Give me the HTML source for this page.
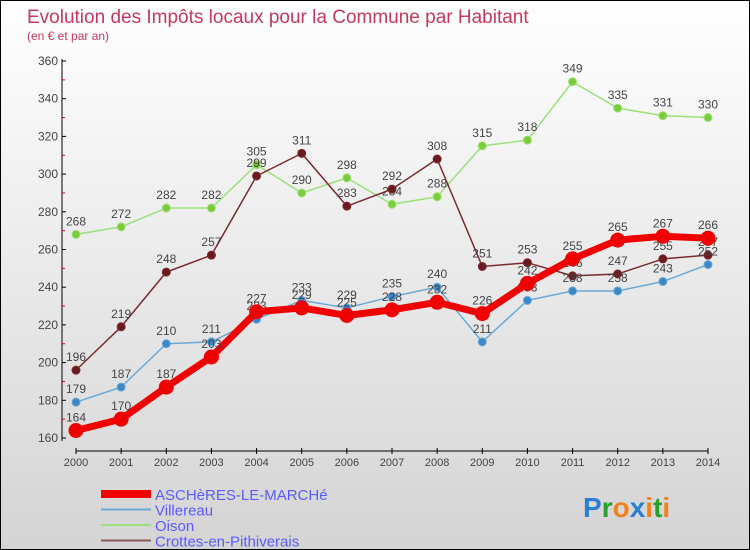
<!DOCTYPE html>
<html><head><meta charset="utf-8"><style>
body{margin:0;}
#wrap{width:748px;height:548px;border:1px solid #000;background:linear-gradient(#fff,#d4d4d4);position:relative;font-family:"Liberation Sans",sans-serif;overflow:hidden}
</style></head><body>
<div id="wrap">
<svg id="svg" width="748" height="548" xmlns="http://www.w3.org/2000/svg">
<text x="26" y="22" font-size="19" fill="#c8365e">Evolution des Impôts locaux pour la Commune par Habitant</text>
<text x="26" y="39" font-size="12" fill="#c8365e">(en € et par an)</text>
<g id="axes"></g><g id="series"></g><g id="legend"></g>
<text x="582" y="516" font-size="28" font-weight="bold"><tspan fill="#2a7fd4">P</tspan><tspan fill="#2aa02a">r</tspan><tspan fill="#f08020">o</tspan><tspan fill="#2a7fd4">x</tspan><tspan fill="#f08020">i</tspan><tspan fill="#2aa02a">t</tspan><tspan fill="#f08020">i</tspan></text>
</svg></div>
<script>
const years=[2000,2001,2002,2003,2004,2005,2006,2007,2008,2009,2010,2011,2012,2013,2014];
const yTicks=[160,180,200,220,240,260,280,300,320,340,360];
const aschVals=[164,170,187,203,227,229,225,228,232,226,242,255,265,267,266];
const villVals=[179,187,210,211,223,233,229,235,240,211,233,238,238,243,252];
const oisonVals=[268,272,282,282,305,290,298,284,288,315,318,349,335,331,330];
const crotVals=[196,219,248,257,299,311,283,292,308,251,253,246,247,255,257];
const NS="http://www.w3.org/2000/svg";
const X=i=>75+i*(707-75)/(years.length-1);
const Y=v=>437-(v-160)*(437-60)/200;
function mk(t,a,p){const e=document.createElementNS(NS,t);for(const k in a)e.setAttribute(k,a[k]);p.appendChild(e);return e;}
const ax=document.getElementById('axes');
let e=mk('line',{x1:61,y1:58,x2:61,y2:440,stroke:'#000','stroke-width':1},ax);

e=mk('line',{x1:75,y1:450,x2:707,y2:450,stroke:'#000','stroke-width':1},ax);

yTicks.forEach((v,i)=>{mk('line',{x1:61,y1:Y(v),x2:65,y2:Y(v),stroke:'#000'},ax);
 if(i<yTicks.length-1)mk('line',{x1:61,y1:Y(v+10),x2:64,y2:Y(v+10),stroke:'#d00'},ax);
 const t=mk('text',{x:57,y:Y(v)+4,'font-size':12,'text-anchor':'end',fill:'#444'},ax);t.textContent=v;
 });
years.forEach((y,i)=>{mk('line',{x1:X(i),y1:447,x2:X(i),y2:453,stroke:'#000'},ax);
 const t=mk('text',{x:X(i),y:465,'font-size':11,'text-anchor':'middle',fill:'#444'},ax);t.textContent=y;
 });
const sg=document.getElementById('series');
function series(vals,color,dot,w,r,name){
 const g=mk('g',{},sg);
 const l=mk('polyline',{points:vals.map((v,i)=>X(i)+','+Y(v)).join(' '),fill:'none',stroke:color,'stroke-width':w,'stroke-linejoin':'round'},g);
 
 vals.forEach((v,i)=>{const c=mk('circle',{cx:X(i),cy:Y(v),r:r,fill:dot,stroke:color,'stroke-width':1},g);
  
  const t=mk('text',{x:X(i),y:Y(v)-9,'font-size':12,'text-anchor':'middle',fill:'#444'},g);t.textContent=v;
  });
}
series(oisonVals,'#9be07a','#7ccc3a',1.5,4,'oison');
series(crotVals,'#7a2a30','#6a1a20',1.5,4,'crottes');
series(villVals,'#6aa8d8','#3a88c8',1.5,4,'villereau');
series(aschVals,'#f00000','#f00000',7,7,'aschères');
const lg=document.getElementById('legend');
[['ASCHèRES-LE-MARCHé','#f00000',8],['Villereau','#6aa8d8',2],['Oison','#9be07a',2],['Crottes-en-Pithiverais','#8a5a5a',2]].forEach((d,i)=>{
 const y=493+i*15.5;
 const l=mk('line',{x1:100,y1:y,x2:150,y2:y,stroke:d[1],'stroke-width':d[2]},lg);
 
 const t=mk('text',{x:154,y:y+6,'font-size':15,fill:'#5a5aff'},lg);t.textContent=d[0];
 });
</script></body></html>
